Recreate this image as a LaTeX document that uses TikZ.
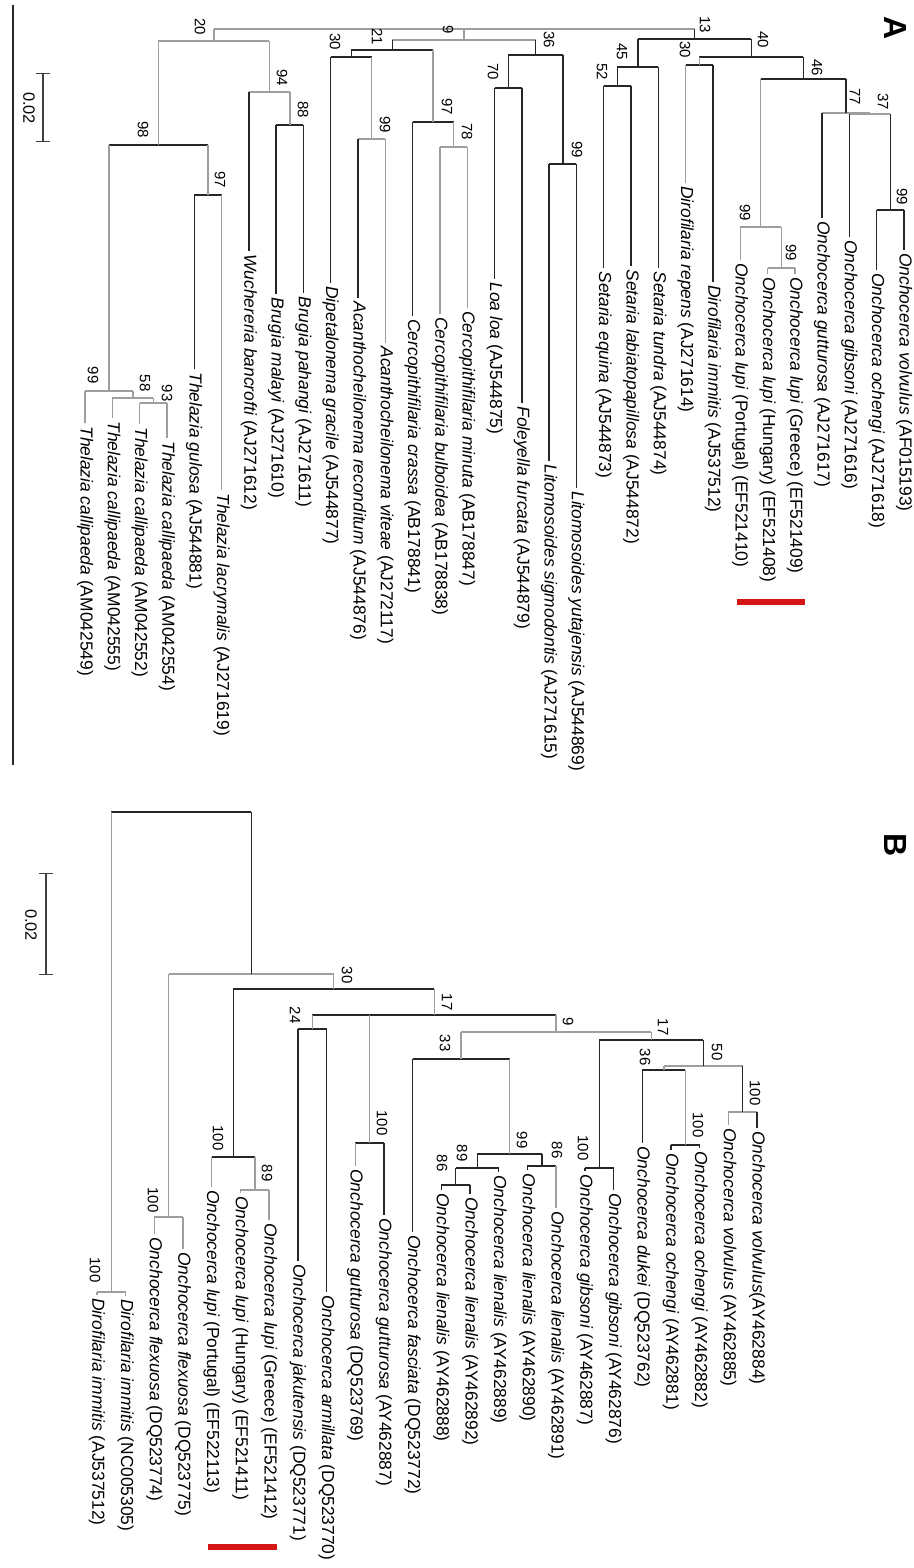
\documentclass[tikz,border=0pt]{standalone}
\usepackage{fontspec}
\setmainfont{Liberation Sans}
\definecolor{rouge}{RGB}{212,22,22}
\tikzset{
    noir/.style={draw=black!85, line width=0.7pt, line cap=square},
    gris/.style={draw=black!38, line width=0.7pt, line cap=square},
    espece/.style={rotate=-90, anchor=west, inner sep=1.5pt, font=\fontsize{8.7}{10}\selectfont},
    boot/.style={rotate=-90, inner sep=0pt, font=\fontsize{7.5}{8}\selectfont},
    lettre/.style={rotate=-90, inner sep=0pt, font=\bfseries\fontsize{16}{18}\selectfont},
    barre/.style={draw=black!75, line width=0.7pt, |-|},
}

\begin{document}
\begin{tikzpicture}[x=0.5pt, y=-0.5pt]
    \useasboundingbox (0,0) rectangle (914,1568);

    % Trait de séparation, lettres et échelles
    \draw[noir] (13,5) -- (13,765);
    \node[lettre] (lettreA) at (895,28) {A};
    \node[lettre] (lettreB) at (895,845) {B};
    \coordinate (echA1) at (43,73);
    \coordinate (echA2) at (43,142);
    \draw[barre] (echA1) -- (echA2);
    \node[boot, font=\fontsize{8.2}{9}\selectfont] (valA) at (29,108) {0.02};
    \coordinate (echB1) at (46,873);
    \coordinate (echB2) at (46,975);
    \draw[barre] (echB1) -- (echB2);
    \node[boot, font=\fontsize{8.2}{9}\selectfont] (valB) at (31,925) {0.02};

    % Repères rouges (O. lupi)
    \fill[rouge] (737,599) rectangle (805,605);
    \fill[rouge] (208,1544) rectangle (277,1550);

    % ---------------- Arbre A ----------------
    % Feuilles
    \node[espece] (tA1) at (904,250) {\textit{Onchocerca volvulus} (AF015193)};
    \node[espece] (tA2) at (876.7,270) {\textit{Onchocerca ochengi} (AJ271618)};
    \node[espece] (tA3) at (849.4,237) {\textit{Onchocerca gibsoni} (AJ271616)};
    \node[espece] (tA4) at (822.1,218) {\textit{Onchocerca gutturosa} (AJ271617)};
    \node[espece] (tA5) at (794.8,274) {\textit{Onchocerca lupi} (Greece) (EF521409)};
    \node[espece] (tA6) at (767.5,274) {\textit{Onchocerca lupi} (Hungary) (EF521408)};
    \node[espece] (tA7) at (740.2,260) {\textit{Onchocerca lupi} (Portugal) (EF521410)};
    \node[espece] (tA8) at (712.9,282) {\textit{Dirofilaria immitis} (AJ537512)};
    \node[espece] (tA9) at (685.6,183) {\textit{Dirofilaria repens} (AJ271614)};
    \node[espece] (tA10) at (658.3,268) {\textit{Setaria tundra} (AJ544874)};
    \node[espece] (tA11) at (631,266) {\textit{Setaria labiatopapillosa} (AJ544872)};
    \node[espece] (tA12) at (603.7,268) {\textit{Setaria equina} (AJ544873)};
    \node[espece] (tA13) at (576.4,488) {\textit{Litomosoides yutajensis} (AJ544869)};
    \node[espece] (tA14) at (549.1,461) {\textit{Litomosoides sigmodontis} (AJ271615)};
    \node[espece] (tA15) at (521.8,403) {\textit{Foleyella furcata} (AJ544879)};
    \node[espece] (tA16) at (494.5,279) {\textit{Loa loa} (AJ544875)};
    \node[espece] (tA17) at (467.2,308) {\textit{Cercopithifilaria minuta} (AB178847)};
    \node[espece] (tA18) at (439.9,314) {\textit{Cercopithifilaria bulboidea} (AB178838)};
    \node[espece] (tA19) at (412.6,316) {\textit{Cercopithifilaria crassa} (AB178841)};
    \node[espece] (tA20) at (385.3,343) {\textit{Acanthocheilonema viteae} (AJ272117)};
    \node[espece] (tA21) at (358,298) {\textit{Acanthocheilonema reconditum} (AJ544876)};
    \node[espece] (tA22) at (330.7,283) {\textit{Dipetalonema gracile} (AJ544877)};
    \node[espece] (tA23) at (303.4,293) {\textit{Brugia pahangi} (AJ271611)};
    \node[espece] (tA24) at (276.1,294) {\textit{Brugia malayi} (AJ271610)};
    \node[espece] (tA25) at (248.8,251) {\textit{Wuchereria bancrofti} (AJ271612)};
    \node[espece] (tA26) at (221.5,490) {\textit{Thelazia lacrymalis} (AJ271619)};
    \node[espece] (tA27) at (194.2,369) {\textit{Thelazia gulosa} (AJ544881)};
    \node[espece] (tA28) at (166.9,438) {\textit{Thelazia callipaeda} (AM042554)};
    \node[espece] (tA29) at (139.6,424) {\textit{Thelazia callipaeda} (AM042552)};
    \node[espece] (tA30) at (112.3,418) {\textit{Thelazia callipaeda} (AM042555)};
    \node[espece] (tA31) at (85,423) {\textit{Thelazia callipaeda} (AM042549)};

    % Noeuds internes
    \coordinate (rootA) at (454,29);
    \coordinate (a20) at (213.9,41);
    \coordinate (a98) at (158.4,145);
    \coordinate (a99t) at (108.9,391);
    \coordinate (a58) at (132.8,398);
    \coordinate (a93) at (153.3,403);
    \coordinate (a97t) at (207.9,195);
    \coordinate (a94) at (269.3,92);
    \coordinate (a88) at (289.8,125);
    \coordinate (a9) at (463.9,40);
    \coordinate (a21) at (392.2,50);
    \coordinate (a30d) at (351.2,57);
    \coordinate (a99a) at (371.7,139);
    \coordinate (a97c) at (433.1,122);
    \coordinate (a78) at (453.6,147);
    \coordinate (a36) at (535.5,55);
    \coordinate (a70) at (508.2,88);
    \coordinate (a99l) at (562.8,164);
    \coordinate (a13) at (694.6,39);
    \coordinate (a45) at (637.9,67);
    \coordinate (a52) at (617.4,86);
    \coordinate (a40) at (751.3,57);
    \coordinate (a30r) at (699.3,65);
    \coordinate (a46) at (803.4,79);
    \coordinate (a99o) at (760.7,227);
    \coordinate (a99g) at (781.2,268);
    \coordinate (a77) at (846,113);
    \coordinate (a37) at (869.9,114);
    \coordinate (a99v) at (890.4,210);

    % Branches horizontales
    \draw[gris] (a20 |- rootA) -- (a13 |- rootA);
    \draw[gris] (a98 |- a20) -- (a94 |- a20);
    \draw[noir] (a99t |- a98) -- (a97t |- a98);
    \draw[gris] (tA31.west |- a99t) -- (a58 |- a99t);
    \draw[gris] (tA30.west |- a58) -- (a93 |- a58);
    \draw[gris] (tA29.west |- a93) -- (tA28.west |- a93);
    \draw[noir] (tA27.west |- a97t) -- (tA26.west |- a97t);
    \draw[gris] (tA25.west |- a94) -- (a88 |- a94);
    \draw[noir] (tA24.west |- a88) -- (tA23.west |- a88);
    \draw[gris] (a21 |- a9) -- (a36 |- a9);
    \draw[noir] (a30d |- a21) -- (a97c |- a21);
    \draw[noir] (tA22.west |- a30d) -- (a99a |- a30d);
    \draw[gris] (tA21.west |- a99a) -- (tA20.west |- a99a);
    \draw[noir] (tA19.west |- a97c) -- (a78 |- a97c);
    \draw[gris] (tA18.west |- a78) -- (tA17.west |- a78);
    \draw[noir] (a70 |- a36) -- (a99l |- a36);
    \draw[noir] (tA16.west |- a70) -- (tA15.west |- a70);
    \draw[noir] (tA14.west |- a99l) -- (tA13.west |- a99l);
    \draw[noir] (a45 |- a13) -- (a40 |- a13);
    \draw[noir] (a52 |- a45) -- (tA10.west |- a45);
    \draw[noir] (tA12.west |- a52) -- (tA11.west |- a52);
    \draw[noir] (a30r |- a40) -- (a46 |- a40);
    \draw[noir] (tA9.west |- a30r) -- (tA8.west |- a30r);
    \draw[noir] (a99o |- a46) -- (a77 |- a46);
    \draw[gris] (tA7.west |- a99o) -- (a99g |- a99o);
    \draw[gris] (tA6.west |- a99g) -- (tA5.west |- a99g);
    \draw[gris] (tA4.west |- a77) -- (a37 |- a77);
    \draw[gris] (tA3.west |- a37) -- (a99v |- a37);
    \draw[noir] (tA2.west |- a99v) -- (tA1.west |- a99v);

    % Branches verticales
    \draw[gris] (a20 |- rootA) -- (a20);
    \draw[gris] (a9 |- rootA) -- (a9);
    \draw[noir] (a13 |- rootA) -- (a13);
    \draw[gris] (a98 |- a20) -- (a98);
    \draw[gris] (a94 |- a20) -- (a94);
    \draw[gris] (a99t |- a98) -- (a99t);
    \draw[gris] (a97t |- a98) -- (a97t);
    \draw[gris] (tA31.west |- a99t) -- (tA31.west);
    \draw[gris] (a58 |- a99t) -- (a58);
    \draw[gris] (tA30.west |- a58) -- (tA30.west);
    \draw[gris] (a93 |- a58) -- (a93);
    \draw[gris] (tA29.west |- a93) -- (tA29.west);
    \draw[gris] (tA28.west |- a93) -- (tA28.west);
    \draw[noir] (tA27.west |- a97t) -- (tA27.west);
    \draw[gris] (tA26.west |- a97t) -- (tA26.west);
    \draw[noir] (tA25.west |- a94) -- (tA25.west);
    \draw[gris] (a88 |- a94) -- (a88);
    \draw[noir] (tA24.west |- a88) -- (tA24.west);
    \draw[noir] (tA23.west |- a88) -- (tA23.west);
    \draw[noir] (a21 |- a9) -- (a21);
    \draw[noir] (a36 |- a9) -- (a36);
    \draw[noir] (a30d |- a21) -- (a30d);
    \draw[gris] (a97c |- a21) -- (a97c);
    \draw[noir] (tA22.west |- a30d) -- (tA22.west);
    \draw[gris] (a99a |- a30d) -- (a99a);
    \draw[noir] (tA21.west |- a99a) -- (tA21.west);
    \draw[gris] (tA20.west |- a99a) -- (tA20.west);
    \draw[noir] (tA19.west |- a97c) -- (tA19.west);
    \draw[gris] (a78 |- a97c) -- (a78);
    \draw[gris] (tA18.west |- a78) -- (tA18.west);
    \draw[gris] (tA17.west |- a78) -- (tA17.west);
    \draw[noir] (a70 |- a36) -- (a70);
    \draw[noir] (a99l |- a36) -- (a99l);
    \draw[noir] (tA16.west |- a70) -- (tA16.west);
    \draw[noir] (tA15.west |- a70) -- (tA15.west);
    \draw[noir] (tA14.west |- a99l) -- (tA14.west);
    \draw[noir] (tA13.west |- a99l) -- (tA13.west);
    \draw[noir] (a45 |- a13) -- (a45);
    \draw[noir] (a40 |- a13) -- (a40);
    \draw[noir] (a52 |- a45) -- (a52);
    \draw[noir] (tA10.west |- a45) -- (tA10.west);
    \draw[noir] (tA12.west |- a52) -- (tA12.west);
    \draw[noir] (tA11.west |- a52) -- (tA11.west);
    \draw[gris] (a30r |- a40) -- (a30r);
    \draw[noir] (a46 |- a40) -- (a46);
    \draw[gris] (tA9.west |- a30r) -- (tA9.west);
    \draw[noir] (tA8.west |- a30r) -- (tA8.west);
    \draw[gris] (a99o |- a46) -- (a99o);
    \draw[noir] (a77 |- a46) -- (a77);
    \draw[gris] (tA7.west |- a99o) -- (tA7.west);
    \draw[gris] (a99g |- a99o) -- (a99g);
    \draw[gris] (tA6.west |- a99g) -- (tA6.west);
    \draw[gris] (tA5.west |- a99g) -- (tA5.west);
    \draw[noir] (tA4.west |- a77) -- (tA4.west);
    \draw[gris] (a37 |- a77) -- (a37);
    \draw[noir] (tA3.west |- a37) -- (tA3.west);
    \draw[noir] (a99v |- a37) -- (a99v);
    \draw[noir] (tA2.west |- a99v) -- (tA2.west);
    \draw[noir] (tA1.west |- a99v) -- (tA1.west);

    % Valeurs de bootstrap
    \node[boot] (bA20) at (200,27) {20};
    \node[boot] (bA98) at (143,130) {98};
    \node[boot] (bA99t) at (93,375) {99};
    \node[boot] (bA58) at (145,383) {58};
    \node[boot] (bA93) at (167,393) {93};
    \node[boot] (bA97t) at (220,180) {97};
    \node[boot] (bA94) at (282,78) {94};
    \node[boot] (bA88) at (303,110) {88};
    \node[boot] (bA9) at (448,30) {9};
    \node[boot] (bA21) at (377,37) {21};
    \node[boot] (bA30d) at (335,42) {30};
    \node[boot] (bA99a) at (385,125) {99};
    \node[boot] (bA97c) at (447,107) {97};
    \node[boot] (bA78) at (467,132) {78};
    \node[boot] (bA36) at (549,40) {36};
    \node[boot] (bA70) at (493,72) {70};
    \node[boot] (bA99l) at (577,150) {99};
    \node[boot] (bA13) at (705,25) {13};
    \node[boot] (bA45) at (622,52) {45};
    \node[boot] (bA52) at (602,72) {52};
    \node[boot] (bA40) at (763,40) {40};
    \node[boot] (bA30r) at (685,50) {30};
    \node[boot] (bA46) at (817,68) {46};
    \node[boot] (bA99o) at (745,213) {99};
    \node[boot] (bA99g) at (791,253) {99};
    \node[boot] (bA77) at (855,97) {77};
    \node[boot] (bA37) at (883,102) {37};
    \node[boot] (bA99v) at (902,197) {99};

    % ---------------- Arbre B ----------------
    % Feuilles
    \node[espece] (tB1) at (757,1128) {\textit{Onchocerca volvulus}(AY462884)};
    \node[espece] (tB2) at (728.3,1125) {\textit{Onchocerca volvulus} (AY462885)};
    \node[espece] (tB3) at (699.6,1148) {\textit{Onchocerca ochengi} (AY462882)};
    \node[espece] (tB4) at (670.9,1150) {\textit{Onchocerca ochengi} (AY462881)};
    \node[espece] (tB5) at (642.2,1143) {\textit{Onchocerca dukei} (DQ523762)};
    \node[espece] (tB6) at (613.5,1190) {\textit{Onchocerca gibsoni} (AY462876)};
    \node[espece] (tB7) at (584.8,1171) {\textit{Onchocerca gibsoni} (AY462887)};
    \node[espece] (tB8) at (556.1,1208) {\textit{Onchocerca lienalis} (AY462891)};
    \node[espece] (tB9) at (527.4,1170) {\textit{Onchocerca lienalis} (AY462890)};
    \node[espece] (tB10) at (498.7,1172) {\textit{Onchocerca lienalis} (AY462889)};
    \node[espece] (tB11) at (470,1194) {\textit{Onchocerca lienalis} (AY462892)};
    \node[espece] (tB12) at (441.3,1190) {\textit{Onchocerca lienalis} (AY462888)};
    \node[espece] (tB13) at (412.6,1232) {\textit{Onchocerca fasciata} (DQ523772)};
    \node[espece] (tB14) at (383.9,1215) {\textit{Onchocerca gutturosa} (AY462887)};
    \node[espece] (tB15) at (355.2,1166) {\textit{Onchocerca gutturosa} (DQ523769)};
    \node[espece] (tB16) at (326.5,1292) {\textit{Onchocerca armillata} (DQ523770)};
    \node[espece] (tB17) at (297.8,1261) {\textit{Onchocerca jakutensis} (DQ523771)};
    \node[espece] (tB18) at (269.1,1220) {\textit{Onchocerca lupi} (Greece) (EF521412)};
    \node[espece] (tB19) at (240.4,1193) {\textit{Onchocerca lupi} (Hungary) (EF521411)};
    \node[espece] (tB20) at (211.7,1187) {\textit{Onchocerca lupi} (Portugal) (EF522113)};
    \node[espece] (tB21) at (183,1249) {\textit{Onchocerca flexuosa} (DQ523775)};
    \node[espece] (tB22) at (154.3,1234) {\textit{Onchocerca flexuosa} (DQ523774)};
    \node[espece] (tB23) at (125.6,1296) {\textit{Dirofilaria immitis} (NC005305)};
    \node[espece] (tB24) at (96.9,1295) {\textit{Dirofilaria immitis} (AJ537512)};

    % Noeuds internes
    \coordinate (rootB) at (181.3,812);
    \coordinate (b100d) at (111.3,1292);
    \coordinate (bn) at (251.2,974);
    \coordinate (b100f) at (168.7,1217);
    \coordinate (b30) at (333.7,989);
    \coordinate (b100l) at (233.2,1157);
    \coordinate (b89l) at (254.8,1190);
    \coordinate (b17) at (434.2,1015);
    \coordinate (b24) at (312.2,1029);
    \coordinate (b100gu) at (369.6,1143);
    \coordinate (b9) at (556.1,1032);
    \coordinate (b33) at (461,1059);
    \coordinate (b99) at (509.5,1154);
    \coordinate (b89) at (477.2,1168);
    \coordinate (b86b) at (455.7,1185);
    \coordinate (b86a) at (541.8,1166);
    \coordinate (b17b) at (651.2,1040);
    \coordinate (b100g) at (599.2,1168);
    \coordinate (b50) at (703.2,1066);
    \coordinate (b36) at (663.8,1070);
    \coordinate (b100o) at (685.3,1145);
    \coordinate (b100v) at (742.7,1112);

    % Branches horizontales
    \draw[noir] (b100d |- rootB) -- (bn |- rootB);
    \draw[gris] (b100f |- bn) -- (b30 |- bn);
    \draw[gris] (tB22.west |- b100f) -- (tB21.west |- b100f);
    \draw[noir] (b100l |- b30) -- (b17 |- b30);
    \draw[noir] (tB20.west |- b100l) -- (b89l |- b100l);
    \draw[gris] (tB19.west |- b89l) -- (tB18.west |- b89l);
    \draw[noir] (b24 |- b17) -- (b9 |- b17);
    \draw[noir] (tB17.west |- b24) -- (tB16.west |- b24);
    \draw[noir] (tB15.west |- b100gu) -- (tB14.west |- b100gu);
    \draw[gris] (b33 |- b9) -- (b17b |- b9);
    \draw[noir] (tB13.west |- b33) -- (b99 |- b33);
    \draw[noir] (b89 |- b99) -- (b86a |- b99);
    \draw[noir] (b86b |- b89) -- (tB10.west |- b89);
    \draw[noir] (tB12.west |- b86b) -- (tB11.west |- b86b);
    \draw[noir] (tB9.west |- b86a) -- (tB8.west |- b86a);
    \draw[noir] (b100g |- b17b) -- (b50 |- b17b);
    \draw[noir] (tB7.west |- b100g) -- (tB6.west |- b100g);
    \draw[gris] (b36 |- b50) -- (b100v |- b50);
    \draw[noir] (tB5.west |- b36) -- (b100o |- b36);
    \draw[noir] (tB4.west |- b100o) -- (tB3.west |- b100o);
    \draw[gris] (tB2.west |- b100v) -- (tB1.west |- b100v);
    \draw[gris] (tB24.west |- b100d) -- (tB23.west |- b100d);

    % Branches verticales
    \draw[gris] (b100d |- rootB) -- (b100d);
    \draw[noir] (bn |- rootB) -- (bn);
    \draw[gris] (tB24.west |- b100d) -- (tB24.west);
    \draw[gris] (tB23.west |- b100d) -- (tB23.west);
    \draw[gris] (b100f |- bn) -- (b100f);
    \draw[gris] (b30 |- bn) -- (b30);
    \draw[gris] (tB22.west |- b100f) -- (tB22.west);
    \draw[gris] (tB21.west |- b100f) -- (tB21.west);
    \draw[noir] (b100l |- b30) -- (b100l);
    \draw[gris] (b17 |- b30) -- (b17);
    \draw[gris] (tB20.west |- b100l) -- (tB20.west);
    \draw[gris] (b89l |- b100l) -- (b89l);
    \draw[gris] (tB19.west |- b89l) -- (tB19.west);
    \draw[gris] (tB18.west |- b89l) -- (tB18.west);
    \draw[gris] (b24 |- b17) -- (b24);
    \draw[gris] (b100gu |- b17) -- (b100gu);
    \draw[gris] (b9 |- b17) -- (b9);
    \draw[noir] (tB17.west |- b24) -- (tB17.west);
    \draw[noir] (tB16.west |- b24) -- (tB16.west);
    \draw[gris] (tB15.west |- b100gu) -- (tB15.west);
    \draw[noir] (tB14.west |- b100gu) -- (tB14.west);
    \draw[gris] (b33 |- b9) -- (b33);
    \draw[gris] (b17b |- b9) -- (b17b);
    \draw[noir] (tB13.west |- b33) -- (tB13.west);
    \draw[gris] (b99 |- b33) -- (b99);
    \draw[noir] (b89 |- b99) -- (b89);
    \draw[noir] (b86a |- b99) -- (b86a);
    \draw[noir] (b86b |- b89) -- (b86b);
    \draw[noir] (tB10.west |- b89) -- (tB10.west);
    \draw[noir] (tB12.west |- b86b) -- (tB12.west);
    \draw[noir] (tB11.west |- b86b) -- (tB11.west);
    \draw[noir] (tB9.west |- b86a) -- (tB9.west);
    \draw[gris] (tB8.west |- b86a) -- (tB8.west);
    \draw[noir] (b100g |- b17b) -- (b100g);
    \draw[noir] (b50 |- b17b) -- (b50);
    \draw[noir] (tB7.west |- b100g) -- (tB7.west);
    \draw[noir] (tB6.west |- b100g) -- (tB6.west);
    \draw[gris] (b36 |- b50) -- (b36);
    \draw[noir] (b100v |- b50) -- (b100v);
    \draw[noir] (tB5.west |- b36) -- (tB5.west);
    \draw[gris] (b100o |- b36) -- (b100o);
    \draw[noir] (tB4.west |- b100o) -- (tB4.west);
    \draw[noir] (tB3.west |- b100o) -- (tB3.west);
    \draw[gris] (tB2.west |- b100v) -- (tB2.west);
    \draw[noir] (tB1.west |- b100v) -- (tB1.west);

    % Valeurs de bootstrap
    \node[boot] (bB100d) at (95,1270) {100};
    \node[boot] (bB100f) at (153,1200) {100};
    \node[boot] (bB30) at (347,975) {30};
    \node[boot] (bB100l) at (218,1138) {100};
    \node[boot] (bB89l) at (267,1173) {89};
    \node[boot] (bB17) at (447,1002) {17};
    \node[boot] (bB24) at (295,1015) {24};
    \node[boot] (bB100gu) at (382,1123) {100};
    \node[boot] (bB9) at (568,1022) {9};
    \node[boot] (bB33) at (445,1043) {33};
    \node[boot] (bB99) at (522,1140) {99};
    \node[boot] (bB89) at (462,1153) {89};
    \node[boot] (bB86b) at (442,1163) {86};
    \node[boot] (bB86a) at (557,1150) {86};
    \node[boot] (bB17b) at (663,1027) {17};
    \node[boot] (bB100g) at (583,1148) {100};
    \node[boot] (bB50) at (717,1052) {50};
    \node[boot] (bB36) at (645,1057) {36};
    \node[boot] (bB100o) at (698,1125) {100};
    \node[boot] (bB100v) at (755,1093) {100};
\end{tikzpicture}
\end{document}
